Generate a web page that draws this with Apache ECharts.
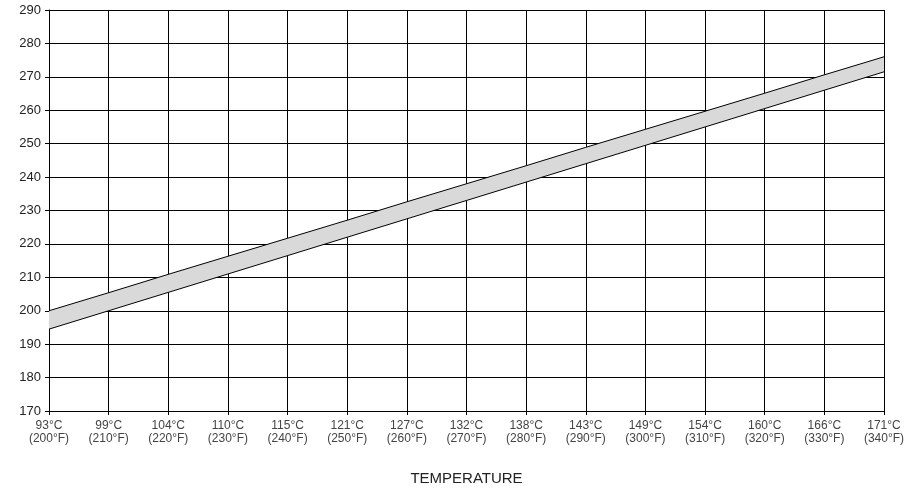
<!DOCTYPE html>
<html>
<head>
<meta charset="utf-8">
<script src="https://cdn.jsdelivr.net/npm/echarts@6/dist/echarts.min.js"></script>
<style>html,body{margin:0;padding:0;background:#fff}#chart{width:910px;height:495px}</style>
</head>
<body>
<div id="chart"></div>
<script>
// 温度刻度（摄氏/华氏）
const categories = ['93°C\n(200°F)', '99°C\n(210°F)', '104°C\n(220°F)', '110°C\n(230°F)', '115°C\n(240°F)',
    '121°C\n(250°F)', '127°C\n(260°F)', '132°C\n(270°F)', '138°C\n(280°F)', '143°C\n(290°F)',
    '149°C\n(300°F)', '154°C\n(310°F)', '160°C\n(320°F)', '166°C\n(330°F)', '171°C\n(340°F)'];
// 上下边界
const upperValues = [200, 205.4, 210.9, 216.3, 221.7, 227.1, 232.6, 238, 243.4, 248.9, 254.3, 259.7, 265.1, 270.6, 276];
const lowerValues = [194.5, 200, 205.5, 211, 216.5, 222, 227.5, 233, 238.5, 244, 249.5, 255, 260.5, 266, 271.5];

const bandValues = upperValues.map((v, i) => +(v - lowerValues[i]).toFixed(2));

const myChart = echarts.init(document.getElementById('chart'));
const font = 'Liberation Sans, Arial, sans-serif';

const option = {
    animation: false,
    grid: { left: 49, right: 26, top: 10, bottom: 84 },
    xAxis: {
        type: 'category',
        data: categories,
        boundaryGap: false,
        name: 'TEMPERATURE',
        nameLocation: 'middle',
        nameGap: 60,
        nameTextStyle: { color: '#222', fontSize: 15, fontFamily: font },
        axisLine: { lineStyle: { color: '#000', width: 1 } },
        axisTick: { show: true, length: 4, lineStyle: { color: '#000' } },
        axisLabel: { color: '#444', fontSize: 12, fontFamily: font, lineHeight: 13, interval: 0 },
        splitLine: { show: true, lineStyle: { color: '#000', width: 1 } }
    },
    yAxis: {
        type: 'value',
        min: 170,
        max: 290,
        interval: 10,
        axisLine: { show: true, lineStyle: { color: '#000', width: 1 } },
        axisTick: { show: true, length: 4, lineStyle: { color: '#000' } },
        axisLabel: { color: '#222', fontSize: 13, fontFamily: font, margin: 8 },
        splitLine: { show: true, lineStyle: { color: '#000', width: 1 } }
    },
    series: [{
        name: 'lower',
        type: 'line',
        stack: 'band',
        data: lowerValues,
        symbol: 'none',
        lineStyle: { color: '#000', width: 1 }
    }, {
        name: 'band',
        type: 'line',
        stack: 'band',
        data: bandValues,
        symbol: 'none',
        lineStyle: { width: 0, opacity: 0 },
        areaStyle: { color: '#d9d9d9', opacity: 1 }
    }, {
        name: 'upper',
        type: 'line',
        data: upperValues,
        symbol: 'none',
        lineStyle: { color: '#000', width: 1 },
        z: 5
    }]
};

myChart.setOption(option);
</script>
</body>
</html>
